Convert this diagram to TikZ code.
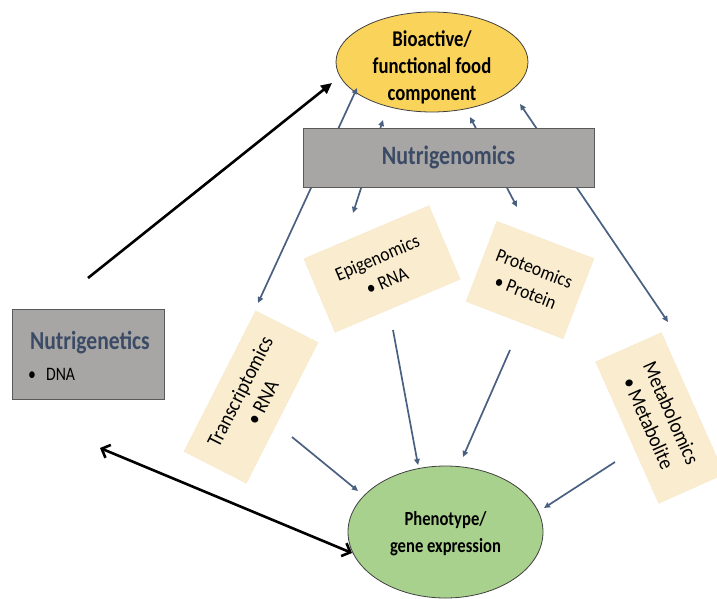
\documentclass[tikz,border=0pt]{standalone}
\usepackage{fontspec}
\setmainfont{Carlito}[FakeStretch=0.83]
\newfontfamily\cardfont{Carlito}[FakeStretch=0.9]
\usetikzlibrary{arrows.meta,shapes.geometric}
\definecolor{yel}{RGB}{250,211,90}
\definecolor{grn}{RGB}{169,209,142}
\definecolor{gbox}{RGB}{168,165,165}
\definecolor{card}{RGB}{250,237,207}
\definecolor{arr}{RGB}{74,96,128}
\definecolor{ngtext}{RGB}{59,75,101}
\begin{document}
\begin{tikzpicture}[x=1pt,y=1pt,
  cardbox/.style={fill=card, draw=card!92!brown, densely dotted, line width=0.6pt, align=center, inner sep=0pt},
  conn/.style={draw=arr, line width=1.7pt, -{Triangle[length=6pt,width=5.5pt]}},
  dconn/.style={draw=arr, line width=1.7pt, {Triangle[length=6pt,width=5.5pt]}-{Triangle[length=6pt,width=5.5pt]}},
  blk/.style={draw=black, line width=2.6pt},
  greybox/.style={rectangle, fill=gbox, draw=black!65, line width=0.8pt, inner sep=0pt},
  oval/.style={ellipse, draw=black!75, line width=0.8pt, inner sep=0pt},
  ovaltext/.style={align=center, inner sep=0pt, font=\bfseries\fontsize{22.5}{27}\selectfont}
]
\useasboundingbox (0,0) rectangle (717,-599);

% cards
\node[cardbox, rotate=63, minimum width=158, minimum height=70, font=\cardfont\fontsize{21}{25}\selectfont] (trans) at (251,-397) {Transcriptomics\\\textbullet\ RNA};
\node[cardbox, rotate=23, minimum width=136, minimum height=80, font=\cardfont\fontsize{19.5}{25}\selectfont] (epi) at (382,-269) {Epigenomics\\\textbullet\ RNA};
\node[cardbox, rotate=-21, minimum width=104, minimum height=86, font=\cardfont\fontsize{19.5}{25}\selectfont] (prot) at (530,-280) {Proteomics\\\textbullet\ Protein};
\node[cardbox, rotate=-66, minimum width=155, minimum height=72, font=\cardfont\fontsize{21}{25}\selectfont] (meta) at (660,-418) {Metabolomics\\\textbullet\ Metabolite};

% ellipses
\node[oval, fill=yel, minimum width=192, minimum height=100] (food) at (432,-62) {};
\node[ovaltext] (foodtxt) at (432,-67) {Bioactive/\\functional food\\component};
\node[oval, fill=grn, minimum width=195, minimum height=132] (pheno) at (445.5,-532) {};
\node[ovaltext, font=\bfseries\fontsize{20}{27}\selectfont] (phenotxt) at (445.5,-534) {Phenotype/\\gene expression};

% nutrigenetics
\node[greybox, minimum width=152, minimum height=90] (ngbox) at (88,-354) {};
\node[font=\bfseries\fontsize{26}{28}\selectfont, text=ngtext, inner sep=0pt] (ngt) at (90,-343) {Nutrigenetics};
\node[anchor=west, font=\fontsize{19}{20}\selectfont, inner sep=0pt] (dna) at (28,-374) {\textbullet\hspace{10pt}DNA};

% coordinates
\coordinate (t1) at (258,-303); \coordinate (t2) at (357,-88);
\coordinate (e1) at (353,-213); \coordinate (e2) at (383,-120);
\coordinate (p1) at (517,-207); \coordinate (p2) at (470,-117);
\coordinate (m1) at (668,-322); \coordinate (m2) at (520,-104);
\coordinate (tt) at (292,-437); \coordinate (th) at (358,-491);
\coordinate (et) at (393,-330); \coordinate (eh) at (418,-465);
\coordinate (pt) at (510,-350); \coordinate (ph) at (463,-457);
\coordinate (mt) at (615,-462); \coordinate (mh) at (544,-508);
\coordinate (k1) at (88,-278); \coordinate (k2) at (332,-83);
\coordinate (d1) at (100,-448); \coordinate (d2) at (352,-553);

% double connectors (behind Nutrigenomics box)
\draw[dconn] (t1) -- (t2);
\draw[dconn] (e1) -- (e2);
\draw[dconn] (p1) -- (p2);
\draw[dconn] (m1) -- (m2);

% to phenotype
\draw[conn] (tt) -- (th);
\draw[conn] (et) -- (eh);
\draw[conn] (pt) -- (ph);
\draw[conn] (mt) -- (mh);

% black arrows
\draw[blk, -{Triangle[length=11pt,width=10pt]}] (k1) -- (k2);
\draw[blk, {Straight Barb[length=7pt,width=14pt]}-{Straight Barb[length=7pt,width=14pt]}] (d1) -- (d2);

% nutrigenomics box
\node[greybox, minimum width=291, minimum height=59, font=\bfseries\fontsize{26.5}{28}\selectfont, text=ngtext] (ngm) at (448.5,-157.5) {Nutrigenomics};
\end{tikzpicture}
\end{document}
